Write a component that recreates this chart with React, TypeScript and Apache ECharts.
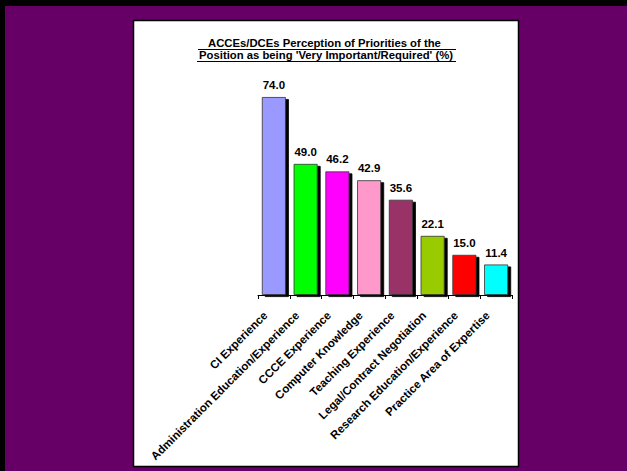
import React, { useEffect, useRef } from "react";
import * as echarts from "echarts";

const titleLines = [
  "ACCEs/DCEs Perception of Priorities of the ",
  "Position as being 'Very Important/Required' (%)",
];
const categories = [
  "CI Experience",
  "Administration Education/Experience",
  "CCCE Experience",
  "Computer Knowledge",
  "Teaching Experience",
  "Legal/Contract Negotiation",
  "Research Education/Experience",
  "Practice Area of Expertise",
];
const values = [74.0, 49.0, 46.2, 42.9, 35.6, 22.1, 15.0, 11.4];
const barColors = [
  "#9999FF",
  "#00FF00",
  "#FF00FF",
  "#FF99CC",
  "#993366",
  "#99CC00",
  "#FF0000",
  "#00FFFF",
];

const FONT = "Arial, 'Liberation Sans', Helvetica, sans-serif";

export default function App() {
  const ref = useRef<HTMLDivElement>(null);
  useEffect(() => {
    document.body.style.margin = "0";
    const chart = echarts.init(ref.current!, null, { renderer: "svg" });
    chart.setOption({
      animation: false,
      backgroundColor: "#660066",
      graphic: [
        { type: "rect", shape: { x: 0, y: 0, width: 627, height: 6 }, style: { fill: "#000" }, z: 0 },
        { type: "rect", shape: { x: 0, y: 0, width: 5, height: 471 }, style: { fill: "#000" }, z: 0 },
        {
          type: "rect",
          shape: { x: 133.5, y: 20.5, width: 385, height: 446 },
          style: { fill: "#fff", stroke: "#000", lineWidth: 1.5 },
          z: 0,
        },
        ...titleLines.map((t, i) => ({
          type: "text",
          x: 326,
          y: 43 + i * 12,
          z: 10,
          style: {
            text: t,
            fill: "#000",
            font: `bold 11.3px ${FONT}`,
            align: "center",
            verticalAlign: "middle",
          },
        })),
        { type: "line", shape: { x1: 198, y1: 49.5, x2: 456, y2: 49.5 }, style: { stroke: "#000", lineWidth: 1 }, z: 10 },
        { type: "line", shape: { x1: 197, y1: 61.5, x2: 456, y2: 61.5 }, style: { stroke: "#000", lineWidth: 1 }, z: 10 },
      ],
      grid: { left: 258, right: 115, top: 81, bottom: 176, containLabel: false },
      xAxis: {
        type: "category",
        data: categories,
        axisLine: { show: true, lineStyle: { color: "#000", width: 1 } },
        axisTick: { show: true, length: 4, lineStyle: { color: "#000" } },
        axisLabel: {
          rotate: 45,
          interval: 0,
          margin: 10,
          padding: [0, 12, 0, 0],
          color: "#000",
          fontWeight: "bold",
          fontSize: 11.5,
          fontFamily: FONT,
        },
      },
      yAxis: {
        type: "value",
        min: 0,
        max: 80,
        show: false,
        splitLine: { show: false },
      },
      series: [
        {
          type: "bar",
          data: values.map((v, i) => ({
            value: v,
            itemStyle: { color: barColors[i] },
          })),
          barWidth: 24,
          itemStyle: {
            borderColor: "#333",
            borderWidth: 0.8,
            shadowColor: "#000",
            shadowOffsetX: 3,
            shadowOffsetY: 2,
            shadowBlur: 0,
          },
          label: {
            show: true,
            position: "top",
            distance: 6,
            color: "#000",
            fontWeight: "bold",
            fontSize: 11.5,
            fontFamily: FONT,
            formatter: (p: any) => Number(p.value).toFixed(1),
          },
        },
      ],
    });
    return () => chart.dispose();
  }, []);
  return (
    <div
      ref={ref}
      style={{ position: "absolute", left: 0, top: 0, width: 627, height: 471 }}
    />
  );
}
